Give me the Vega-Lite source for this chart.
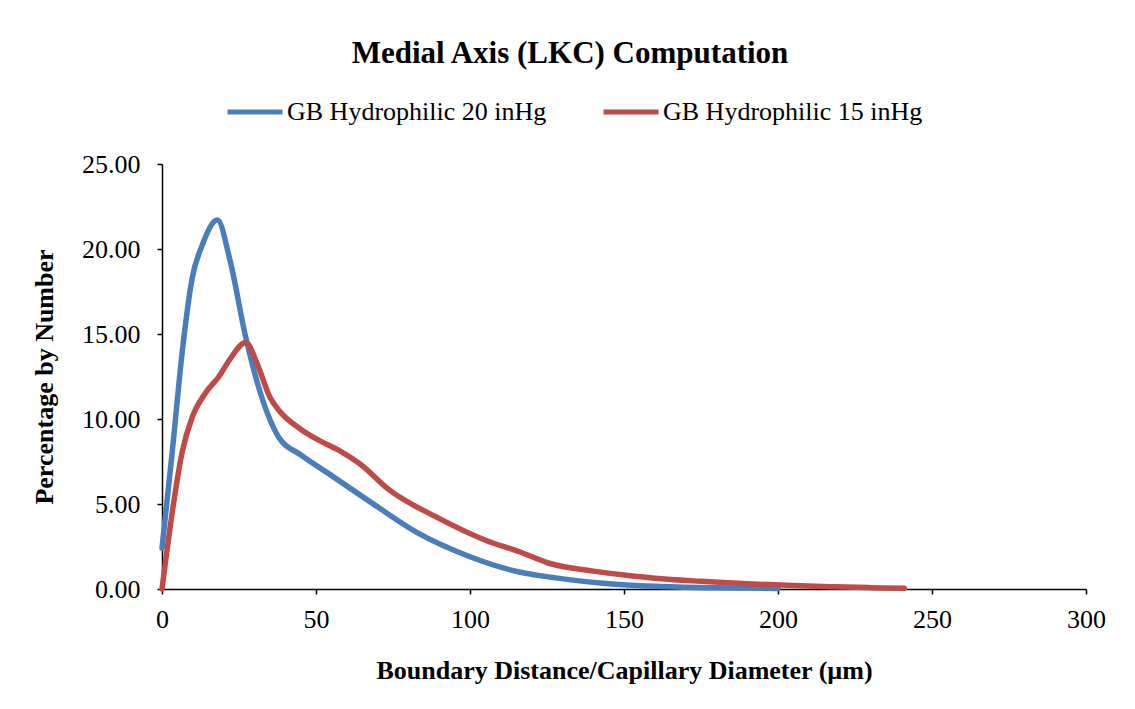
{
  "$schema": "https://vega.github.io/schema/vega-lite/v6.json",
  "width": 924,
  "height": 425,
  "autosize": "none",
  "padding": {"left": 162, "top": 164, "right": 49, "bottom": 120},
  "background": "white",
  "title": {
    "text": "Medial Axis (LKC) Computation",
    "font": "Liberation Serif",
    "fontSize": 31,
    "fontWeight": "bold",
    "color": "black",
    "anchor": "middle",
    "dx": -54,
    "offset": 12
  },
  "data": {
    "values": [
      {"d": 0, "p": 2.4, "s": "GB Hydrophilic 20 inHg"},
      {"d": 3.4, "p": 8.2, "s": "GB Hydrophilic 20 inHg"},
      {"d": 6.6, "p": 14.0, "s": "GB Hydrophilic 20 inHg"},
      {"d": 9.8, "p": 18.3, "s": "GB Hydrophilic 20 inHg"},
      {"d": 13, "p": 20.2, "s": "GB Hydrophilic 20 inHg"},
      {"d": 18, "p": 21.7, "s": "GB Hydrophilic 20 inHg"},
      {"d": 22, "p": 19.4, "s": "GB Hydrophilic 20 inHg"},
      {"d": 27.2, "p": 14.8, "s": "GB Hydrophilic 20 inHg"},
      {"d": 32, "p": 11.5, "s": "GB Hydrophilic 20 inHg"},
      {"d": 38, "p": 8.9, "s": "GB Hydrophilic 20 inHg"},
      {"d": 45, "p": 7.9, "s": "GB Hydrophilic 20 inHg"},
      {"d": 54, "p": 6.8, "s": "GB Hydrophilic 20 inHg"},
      {"d": 67, "p": 5.2, "s": "GB Hydrophilic 20 inHg"},
      {"d": 83, "p": 3.3, "s": "GB Hydrophilic 20 inHg"},
      {"d": 100, "p": 1.9, "s": "GB Hydrophilic 20 inHg"},
      {"d": 116, "p": 1.0, "s": "GB Hydrophilic 20 inHg"},
      {"d": 126, "p": 0.7, "s": "GB Hydrophilic 20 inHg"},
      {"d": 144, "p": 0.33, "s": "GB Hydrophilic 20 inHg"},
      {"d": 160, "p": 0.16, "s": "GB Hydrophilic 20 inHg"},
      {"d": 180, "p": 0.07, "s": "GB Hydrophilic 20 inHg"},
      {"d": 200, "p": 0.03, "s": "GB Hydrophilic 20 inHg"},
      {"d": 0, "p": 0, "s": "GB Hydrophilic 15 inHg"},
      {"d": 3.4, "p": 4.6, "s": "GB Hydrophilic 15 inHg"},
      {"d": 6.6, "p": 8.1, "s": "GB Hydrophilic 15 inHg"},
      {"d": 9.8, "p": 10.1, "s": "GB Hydrophilic 15 inHg"},
      {"d": 14, "p": 11.5, "s": "GB Hydrophilic 15 inHg"},
      {"d": 18.5, "p": 12.5, "s": "GB Hydrophilic 15 inHg"},
      {"d": 22, "p": 13.5, "s": "GB Hydrophilic 15 inHg"},
      {"d": 27.2, "p": 14.5, "s": "GB Hydrophilic 15 inHg"},
      {"d": 31, "p": 13.2, "s": "GB Hydrophilic 15 inHg"},
      {"d": 35, "p": 11.3, "s": "GB Hydrophilic 15 inHg"},
      {"d": 38, "p": 10.5, "s": "GB Hydrophilic 15 inHg"},
      {"d": 45, "p": 9.4, "s": "GB Hydrophilic 15 inHg"},
      {"d": 51, "p": 8.74, "s": "GB Hydrophilic 15 inHg"},
      {"d": 58, "p": 8.1, "s": "GB Hydrophilic 15 inHg"},
      {"d": 64, "p": 7.4, "s": "GB Hydrophilic 15 inHg"},
      {"d": 74, "p": 5.8, "s": "GB Hydrophilic 15 inHg"},
      {"d": 89, "p": 4.24, "s": "GB Hydrophilic 15 inHg"},
      {"d": 105, "p": 2.87, "s": "GB Hydrophilic 15 inHg"},
      {"d": 116, "p": 2.19, "s": "GB Hydrophilic 15 inHg"},
      {"d": 126, "p": 1.5, "s": "GB Hydrophilic 15 inHg"},
      {"d": 140, "p": 1.05, "s": "GB Hydrophilic 15 inHg"},
      {"d": 150, "p": 0.82, "s": "GB Hydrophilic 15 inHg"},
      {"d": 160, "p": 0.63, "s": "GB Hydrophilic 15 inHg"},
      {"d": 175, "p": 0.45, "s": "GB Hydrophilic 15 inHg"},
      {"d": 190, "p": 0.31, "s": "GB Hydrophilic 15 inHg"},
      {"d": 205, "p": 0.2, "s": "GB Hydrophilic 15 inHg"},
      {"d": 218, "p": 0.13, "s": "GB Hydrophilic 15 inHg"},
      {"d": 230, "p": 0.08, "s": "GB Hydrophilic 15 inHg"},
      {"d": 241, "p": 0.04, "s": "GB Hydrophilic 15 inHg"}
    ]
  },
  "mark": {"type": "line", "interpolate": "monotone", "strokeWidth": 5.5, "strokeCap": "round"},
  "encoding": {
    "x": {
      "field": "d",
      "type": "quantitative",
      "scale": {"domain": [0, 300], "nice": false},
      "axis": {
        "values": [0, 50, 100, 150, 200, 250, 300],
        "title": "Boundary Distance/Capillary Diameter (µm)",
        "grid": false,
        "labelFlush": false,
        "labelPadding": 12,
        "titlePadding": 25
      }
    },
    "y": {
      "field": "p",
      "type": "quantitative",
      "scale": {"domain": [0, 25], "nice": false},
      "axis": {
        "values": [0, 5, 10, 15, 20, 25],
        "format": ".2f",
        "title": "Percentage by Number",
        "grid": false,
        "labelFlush": false,
        "labelPadding": 17,
        "titlePadding": 24
      }
    },
    "color": {
      "field": "s",
      "type": "nominal",
      "scale": {
        "domain": ["GB Hydrophilic 20 inHg", "GB Hydrophilic 15 inHg"],
        "range": ["#4A7EBB", "#BE4B48"]
      },
      "legend": {
        "orient": "none",
        "legendX": 63,
        "legendY": -82,
        "direction": "horizontal",
        "title": null,
        "symbolType": "stroke",
        "symbolSize": 3025,
        "symbolStrokeWidth": 5,
        "labelFont": "Liberation Serif",
        "labelFontSize": 26,
        "labelColor": "black",
        "columnPadding": 46,
        "labelOffset": 2,
        "labelLimit": 400
      }
    }
  },
  "config": {
    "view": {"stroke": null},
    "title": {"font": "Liberation Serif"},
    "legend": {"labelFont": "Liberation Serif"},
    "axis": {
      "domainColor": "black",
      "domainWidth": 1.5,
      "tickColor": "black",
      "tickWidth": 1.5,
      "tickSize": 5,
      "labelFont": "Liberation Serif",
      "labelFontSize": 26,
      "labelColor": "black",
      "titleFont": "Liberation Serif",
      "titleFontSize": 26,
      "titleFontWeight": "bold",
      "titleColor": "black"
    }
  }
}
